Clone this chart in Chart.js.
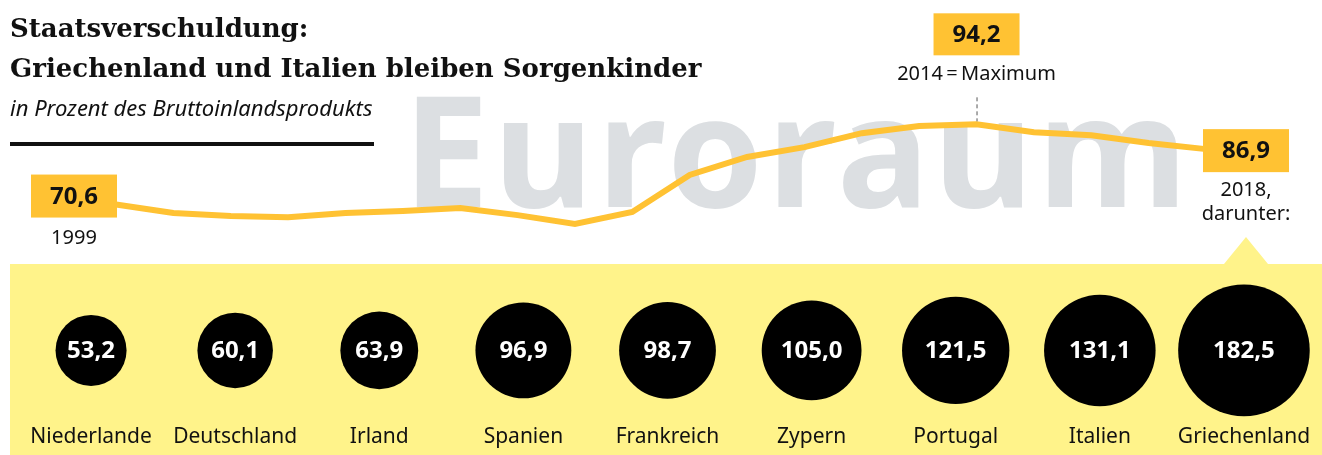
<!DOCTYPE html>
<html lang="de">
<head>
<meta charset="utf-8">
<title>Staatsverschuldung Euroraum</title>
<script src="https://cdn.jsdelivr.net/npm/chart.js@4.4.1/dist/chart.umd.min.js"></script>
<style>
    body { margin: 0; background: #fff; }
    #wrap { position: relative; width: 1322px; height: 455px; overflow: hidden; font-family: "Noto Sans", sans-serif; color: #111; }
    #title { position: absolute; left: 10px; top: 8px; font: bold 26px/40px "DejaVu Serif", serif; color: #111; white-space: nowrap; }
    #subtitle { position: absolute; left: 10px; top: 97px; font: italic 22px/20px "Noto Sans", sans-serif; color: #111; white-space: nowrap; }
    #rule { position: absolute; left: 10px; top: 142px; width: 364px; height: 4px; background: #111; }
    #band { position: absolute; left: 10px; top: 264px; width: 1312px; height: 191px; background: #fff38a; }
    #lineChart { position: absolute; left: 0; top: 0; }
    #bubbleChart { position: absolute; left: 0; top: 264px; }
</style>
</head>
<body>
<div id="wrap">
    <div id="band"></div>
    <canvas id="lineChart" width="1322" height="264"></canvas>
    <canvas id="bubbleChart" width="1322" height="191"></canvas>
    <div id="title">Staatsverschuldung:<br>Griechenland und Italien bleiben Sorgenkinder</div>
    <div id="subtitle">in Prozent des Bruttoinlandsprodukts</div>
    <div id="rule"></div>
</div>
<script>
// Euroraum, Staatsschulden in % des BIP
const years = ['1999', '2000', '2001', '2002', '2003', '2004', '2005', '2006', '2007', '2008',
               '2009', '2010', '2011', '2012', '2013', '2014', '2015', '2016', '2017', '2018'];
const euroDebt = [70.6, 68.1, 67.2, 66.9, 68.1, 68.7, 69.6, 67.5, 64.9, 68.4,
                  79.3, 84.6, 87.5, 91.6, 93.7, 94.2, 91.9, 91.0, 88.7, 86.9];

// 2018, darunter
const countries = ['Niederlande', 'Deutschland', 'Irland', 'Spanien', 'Frankreich',
                   'Zypern', 'Portugal', 'Italien', 'Griechenland'];
const countryDebt = [53.2, 60.1, 63.9, 96.9, 98.7, 105.0, 121.5, 131.1, 182.5];

const yellow = '#ffc233';
const fmt = v => v.toFixed(1).replace('.', ',');

function box(ctx, x, y, w, h, text) {
    ctx.fillStyle = yellow;
    ctx.fillRect(x, y, w, h);
    ctx.fillStyle = '#111';
    ctx.font = 'bold 24px "Noto Sans"';
    ctx.textAlign = 'center';
    ctx.textBaseline = 'middle';
    ctx.fillText(text, x + w / 2, y + h / 2 + 1);
}

function label(ctx, x, y, text) {
    ctx.fillStyle = '#111';
    ctx.font = '20px "Noto Sans"';
    ctx.textAlign = 'center';
    ctx.textBaseline = 'middle';
    ctx.fillText(text, x, y);
}

// grauer Schriftzug hinter der Linie
const watermark = {
    id: 'watermark',
    beforeDatasetsDraw(chart) {
        const ctx = chart.ctx;
        ctx.save();
        ctx.fillStyle = '#dcdfe2';
        ctx.font = 'bold 154px "Noto Sans"';
        ctx.letterSpacing = '4px';
        ctx.textAlign = 'left';
        ctx.textBaseline = 'alphabetic';
        ctx.fillText('Euroraum', 403, 207);
        ctx.restore();
    }
};

// Kästchen und Beschriftungen an Anfang, Maximum und Ende
const lineLabels = {
    id: 'lineLabels',
    afterDatasetsDraw(chart) {
        const ctx = chart.ctx;
        const pts = chart.getDatasetMeta(0).data;
        const first = pts[0];
        const last = pts[pts.length - 1];
        const maxIdx = euroDebt.indexOf(Math.max(...euroDebt));
        const top = pts[maxIdx];
        ctx.save();

        // 1999
        box(ctx, first.x - 85, first.y - 30, 86, 43, fmt(euroDebt[0]));
        label(ctx, first.x - 42, first.y + 34, years[0]);

        // Maximum
        ctx.strokeStyle = '#555';
        ctx.lineWidth = 1;
        ctx.setLineDash([4, 3]);
        ctx.beginPath();
        ctx.moveTo(top.x + 0.5, top.y - 27);
        ctx.lineTo(top.x + 0.5, top.y - 3);
        ctx.stroke();
        ctx.setLineDash([]);
        box(ctx, top.x - 43, top.y - 111, 86, 42, fmt(euroDebt[maxIdx]));
        label(ctx, top.x, top.y - 50, years[maxIdx] + '\u2009=\u2009Maximum');

        // 2018
        box(ctx, last.x - 3, last.y - 20, 86, 43, fmt(euroDebt[euroDebt.length - 1]));
        const cx = last.x + 40;
        label(ctx, cx, last.y + 41, years[years.length - 1] + ',');
        label(ctx, cx, last.y + 65, 'darunter:');

        // Zeiger zum gelben Band
        ctx.fillStyle = '#fff38a';
        ctx.beginPath();
        ctx.moveTo(cx, chart.height - 27);
        ctx.lineTo(cx + 22, chart.height);
        ctx.lineTo(cx - 22, chart.height);
        ctx.closePath();
        ctx.fill();
        ctx.restore();
    }
};

new Chart(document.getElementById('lineChart'), {
    type: 'line',
    data: {
        labels: years,
        datasets: [{
            data: euroDebt,
            borderColor: yellow,
            borderWidth: 6,
            pointRadius: 0,
            tension: 0,
            borderJoinStyle: 'miter'
        }]
    },
    options: {
        responsive: false,
        animation: false,
        events: [],
        layout: { autoPadding: false, padding: { left: 116, right: 116, top: 104.6, bottom: 23.4 } },
        scales: {
            x: { display: false },
            y: { display: false, min: 60, max: 100 }
        },
        plugins: { legend: { display: false }, tooltip: { enabled: false } }
    },
    plugins: [watermark, lineLabels]
});

// Werte in den Kreisen
const bubbleLabels = {
    id: 'bubbleLabels',
    afterDatasetsDraw(chart) {
        const ctx = chart.ctx;
        ctx.save();
        ctx.fillStyle = '#fff';
        ctx.font = 'bold 24px "Noto Sans"';
        ctx.textAlign = 'center';
        ctx.textBaseline = 'middle';
        chart.getDatasetMeta(0).data.forEach((el, i) => {
            ctx.fillText(fmt(countryDebt[i]), el.x, el.y + 1);
        });
        ctx.restore();
    }
};

new Chart(document.getElementById('bubbleChart'), {
    type: 'bubble',
    data: {
        labels: countries,
        datasets: [{
            // Kreisfläche proportional zum Wert
            data: countryDebt.map((v, i) => ({ x: countries[i], y: 0, r: 4.87 * Math.sqrt(v) })),
            backgroundColor: '#000',
            borderWidth: 0,
            clip: false
        }]
    },
    options: {
        responsive: false,
        animation: false,
        events: [],
        layout: { autoPadding: false, padding: { left: 19, right: 6, top: 12, bottom: 5 } },
        scales: {
            x: {
                type: 'category',
                offset: true,
                grid: { display: false, drawTicks: false },
                border: { display: false },
                ticks: { color: '#111', padding: 0, font: { family: 'Noto Sans', size: 21 } }
            },
            y: { display: false, min: -1, max: 1 }
        },
        plugins: { legend: { display: false }, tooltip: { enabled: false } }
    },
    plugins: [bubbleLabels]
});
</script>
</body>
</html>
